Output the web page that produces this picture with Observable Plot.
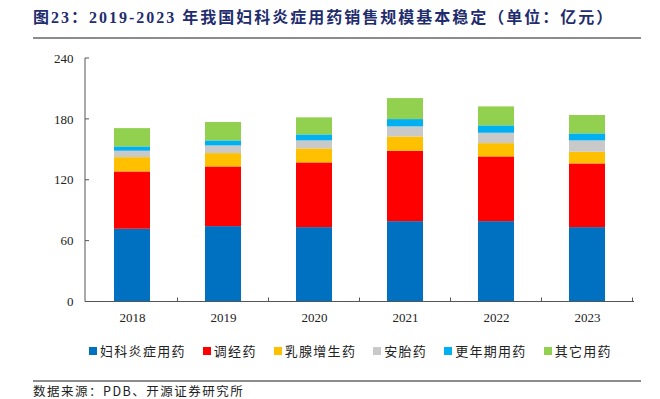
<!DOCTYPE html>
<html><head><meta charset="utf-8">
<script src="https://cdn.jsdelivr.net/npm/d3@7"></script>
<script src="https://cdn.jsdelivr.net/npm/@observablehq/plot@0.6"></script>
<style>
body{margin:0;width:660px;height:399px;overflow:hidden;background:#fff;position:relative;font-family:"Liberation Serif","Noto Sans CJK SC",serif;}
#title{position:absolute;left:33px;top:4px;font-size:16px;font-weight:bold;color:#1F2D6E;white-space:nowrap;letter-spacing:2px;font-family:"Liberation Serif","Noto Sans CJK SC",serif;}
#line1{position:absolute;left:33px;top:37px;width:608px;height:2px;background:#8c8c8c;}
#chart{position:absolute;left:0;top:40px;}
#legend{position:absolute;left:89px;top:341px;font-size:13px;color:#222;white-space:nowrap;font-family:"Noto Sans CJK SC",sans-serif;letter-spacing:1.3px;display:flex;align-items:center;}
#legend span.item{margin-right:17px;display:flex;align-items:center;}
#legend i{display:inline-block;width:8px;height:8px;margin-right:3px;}
#line2{position:absolute;left:33px;top:380px;width:608px;height:2px;background:#8c8c8c;}
#source{position:absolute;left:33px;top:383px;font-size:12.5px;line-height:15px;color:#222;white-space:nowrap;letter-spacing:1.5px;font-family:"Noto Sans CJK SC",sans-serif;}
</style></head>
<body>
<div id="title"></div>
<div id="line1"></div>
<div id="chart"></div>
<div id="legend"></div>
<div id="line2"></div>
<div id="source"></div>
<script>
const titleText = "图23：2019-2023 年我国妇科炎症用药销售规模基本稳定（单位：亿元）";
const sourceText = "数据来源：PDB、开源证券研究所";
const years = ["2018","2019","2020","2021","2022","2023"];
const series = ["妇科炎症用药","调经药","乳腺增生药","安胎药","更年期用药","其它用药"];
const colors = ["#0070C0","#FF0000","#FFC000","#C9C9C9","#00B0F0","#92D050"];
const fuke   = [71.7, 74.3, 73.3, 79.2, 79.2, 73.3];
const tiaojing = [56.5, 58.8, 63.8, 69.4, 63.8, 62.8];
const ruxian = [14.1, 13.2, 13.8, 14.1, 13.1, 11.5];
const antai  = [6.3, 7.5, 7.9, 9.9, 10.2, 11.2];
const gengnian = [4.3, 5.0, 5.9, 7.2, 7.3, 6.9];
const qita   = [18.0, 18.1, 16.8, 20.7, 18.7, 18.1];
const yTicks = [0, 60, 120, 180, 240];

const valuesBySeries = [fuke, tiaojing, ruxian, antai, gengnian, qita];
const data = [];
series.forEach((s, si) => years.forEach((y, yi) => data.push({year: y, series: s, value: valuesBySeries[si][yi]})));

document.getElementById("title").textContent = titleText;
document.getElementById("source").textContent = sourceText;
const lg = document.getElementById("legend");
series.forEach((s, i) => {
  const sp = document.createElement("span"); sp.className = "item";
  const ic = document.createElement("i"); ic.style.background = colors[i];
  sp.appendChild(ic); sp.appendChild(document.createTextNode(s));
  lg.appendChild(sp);
});

const axisColor = "#555";
const chart = Plot.plot({
  width: 660, height: 290,
  marginLeft: 85, marginRight: 26, marginTop: 18, marginBottom: 28.5,
  style: {fontFamily: "'Liberation Serif', serif", fontSize: "13px", color: "#222", background: "transparent"},
  x: {domain: years, paddingInner: 0.6, paddingOuter: 0.3, label: null},
  y: {domain: [0, 240], label: null},
  color: {domain: series, range: colors},
  marks: [
    Plot.barY(data, {x: "year", y: "value", fill: "series", order: series}),
    Plot.axisY(yTicks, {tickSize: 0, tickPadding: 12, fontSize: 13}),
    Plot.axisX(years, {tickSize: 0, tickPadding: 11, fontSize: 13}),
    (index, scales, values, dims) => {
      const g = d3.create("svg:g").attr("stroke", axisColor).attr("fill", "none");
      const x = scales.x, y = scales.y;
      const y0 = y(0), yTop = y(240);
      const xl = dims.marginLeft, xr = dims.width - dims.marginRight;
      g.append("line").attr("x1", xl).attr("x2", xr).attr("y1", y0).attr("y2", y0);
      g.append("line").attr("x1", xl).attr("x2", xl).attr("y1", y0).attr("y2", yTop);
      yTicks.forEach(t => g.append("line").attr("x1", xl).attr("x2", xl + 4).attr("y1", y(t)).attr("y2", y(t)));
      const step = x.step ? x.step() : (xr - xl) / years.length;
      years.forEach(yr => {
        const bx = x(yr) + x.bandwidth() / 2 + step / 2;
        g.append("line").attr("x1", bx).attr("x2", bx).attr("y1", y0).attr("y2", y0 - 4);
      });
      return g.node();
    }
  ]
});
document.getElementById("chart").appendChild(chart);
</script>
</body></html>
